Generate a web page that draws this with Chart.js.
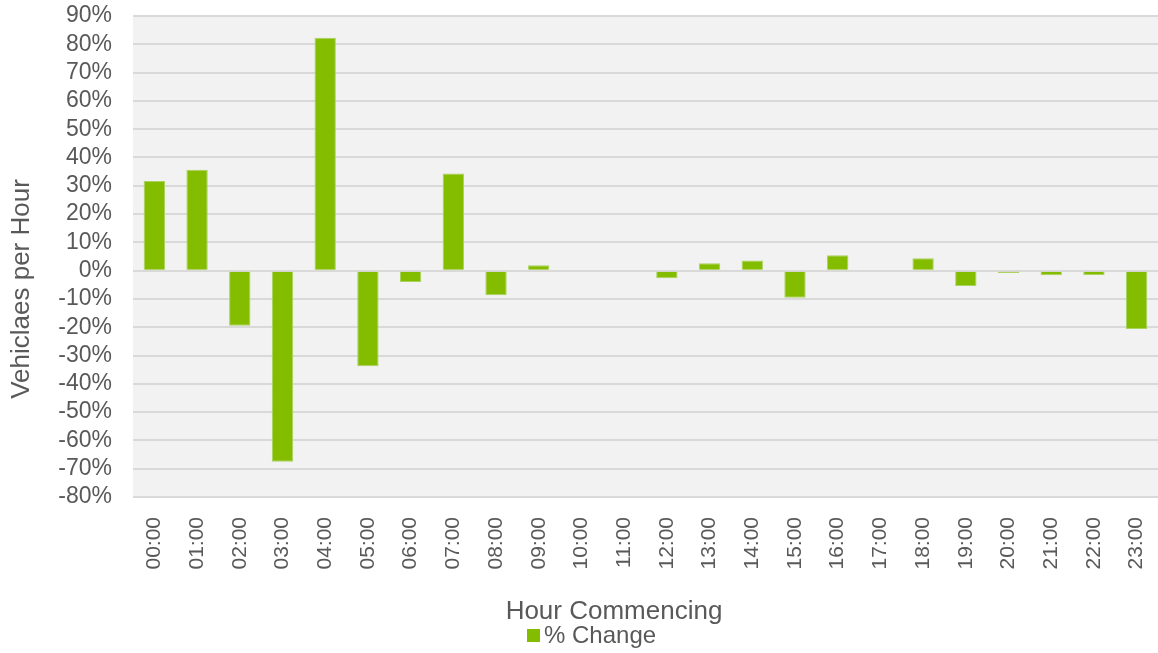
<!DOCTYPE html>
<html lang="en">
<head>
    <meta charset="UTF-8">
    <title>Hourly % Change</title>
    <script src="https://cdn.jsdelivr.net/npm/chart.js"></script>
    <style>
        body { margin: 0; background: #fff; }
        .wrap { position: relative; width: 1158px; height: 653px; }
    </style>
</head>
<body>
    <div class="wrap">
        <canvas id="changeChart"></canvas>
    </div>
    <script>
        const hours = ['00:00', '01:00', '02:00', '03:00', '04:00', '05:00', '06:00', '07:00',
            '08:00', '09:00', '10:00', '11:00', '12:00', '13:00', '14:00', '15:00',
            '16:00', '17:00', '18:00', '19:00', '20:00', '21:00', '22:00', '23:00'];
        const pctChange = [31.7, 35.7, -19.5, -67.5, 82.3, -33.8, -4.0, 34.3,
            -8.7, 1.9, 0, 0, -2.7, 2.6, 3.6, -9.6,
            5.4, 0, 4.4, -5.4, -0.8, -1.6, -1.5, -20.6];
        const yMin = -80, yMax = 90, yStep = 10;

        const textGrey = '#595959';
        const barGreen = '#84bd00';
        const fontName = "'Liberation Sans', Arial, sans-serif";

        // grey plot background, axis titles and the single legend entry
        const plotDecor = {
            id: 'plotDecor',
            beforeDraw(chart) {
                const { ctx, chartArea: a } = chart;
                ctx.save();
                ctx.fillStyle = '#f2f2f2';
                ctx.fillRect(a.left, a.top, a.right - a.left, a.bottom - a.top);
                ctx.restore();
            },
            afterDraw(chart) {
                const ctx = chart.ctx;
                const ds = chart.data.datasets[0];
                ctx.save();
                ctx.fillStyle = textGrey;
                ctx.textBaseline = 'middle';
                ctx.font = '26px ' + fontName;
                ctx.textAlign = 'center';
                ctx.fillText('Hour Commencing', 614, 612);

                ctx.font = '24px ' + fontName;
                ctx.textAlign = 'left';
                ctx.fillText(ds.label, 544, 636);
                ctx.fillStyle = ds.backgroundColor;
                ctx.fillRect(527, 629, 13, 13);

                ctx.fillStyle = textGrey;
                ctx.font = '26px ' + fontName;
                ctx.textAlign = 'center';
                ctx.translate(22, 289);
                ctx.rotate(-Math.PI / 2);
                ctx.fillText('Vehiclaes per Hour', 0, 0);
                ctx.restore();
            }
        };

        new Chart(document.getElementById('changeChart'), {
            type: 'bar',
            data: {
                labels: hours,
                datasets: [{
                    label: '% Change',
                    data: pctChange,
                    backgroundColor: barGreen,
                    borderColor: '#a9d25e',
                    borderWidth: 1,
                    barPercentage: 0.5,
                    categoryPercentage: 1
                }]
            },
            options: {
                responsive: true,
                maintainAspectRatio: false,
                animation: false,
                layout: { padding: { top: 16, right: 0, bottom: 0, left: 0 } },
                plugins: {
                    tooltip: { enabled: false },
                    legend: { display: false }
                },
                scales: {
                    x: {
                        grid: { display: false },
                        border: { display: false },
                        ticks: {
                            color: textGrey,
                            font: { family: fontName, size: 21 },
                            minRotation: 90,
                            maxRotation: 90,
                            autoSkip: false,
                            padding: 12
                        },
                        afterFit(s) {
                            s.height = 156;
                            s.paddingLeft = 0;
                            s.paddingRight = 0;
                        }
                    },
                    y: {
                        min: yMin,
                        max: yMax,
                        border: { display: false },
                        grid: { color: '#d9d9d9', lineWidth: 2, drawTicks: false },
                        ticks: {
                            stepSize: yStep,
                            autoSkip: false,
                            color: textGrey,
                            font: { family: fontName, size: 23 },
                            padding: 21,
                            callback: v => v + '%'
                        },
                        afterFit(s) {
                            s.width = 133;
                            s.paddingTop = 0;
                            s.paddingBottom = 0;
                        }
                    }
                }
            },
            plugins: [plotDecor]
        });
    </script>
</body>
</html>
